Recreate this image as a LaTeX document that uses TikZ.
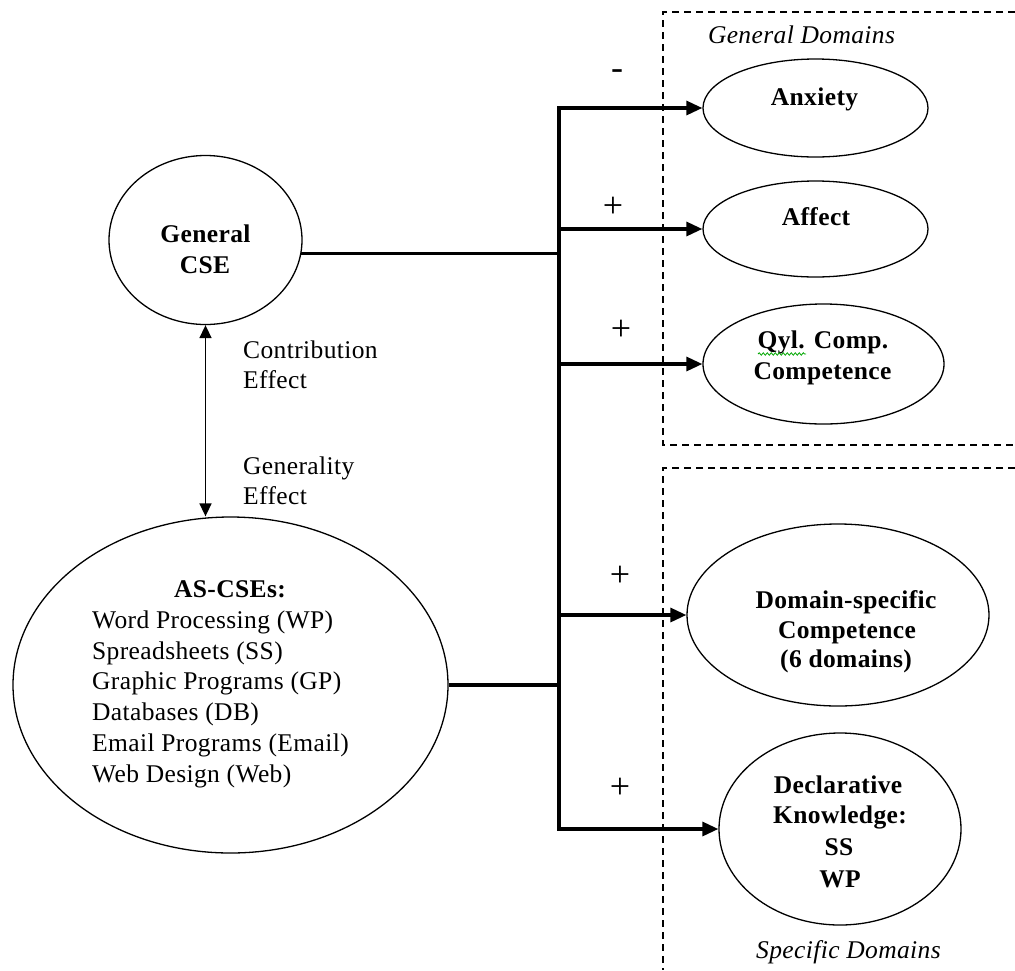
\documentclass[tikz,border=0pt]{standalone}
\usepackage{fontspec}
\setmainfont{Liberation Serif}[LetterSpace=1.5]
\usetikzlibrary{shapes.geometric,arrows.meta,decorations.pathmorphing}
\begin{document}
\begin{tikzpicture}[x=1pt,y=-1pt,
  oval/.style={draw, ellipse, line width=1.3pt, inner sep=0pt},
  txt/.style={font=\fontsize{25.5}{30}\selectfont, inner sep=0pt},
  btxt/.style={font=\fontsize{25.5}{30}\selectfont\bfseries, inner sep=0pt},
  itxt/.style={font=\fontsize{25.5}{30}\selectfont\itshape, inner sep=0pt},
  sign/.style={font=\fontsize{36}{36}\selectfont, inner sep=0pt},
  conn/.style={line width=3.2pt},
  bigtip/.style={-{Triangle[length=16pt,width=14pt]}},
  dbl/.style={line width=1.6pt, {Triangle[length=13pt,width=12pt]}-{Triangle[length=13pt,width=12pt]}},
  domainbox/.style={line width=1.3pt, dash pattern=on 7pt off 5pt}
]
\useasboundingbox (0,0) rectangle (1015,970);

% dashed domain boxes
\draw[domainbox] (1015,12) -- (663,12) -- (663,445) -- (1015,445);
\draw[domainbox] (1015,468) -- (663,468) -- (663,970);

% ellipses
\node[oval, minimum width=193pt, minimum height=169pt] (gcse) at (205.5,240) {};
\node[oval, minimum width=435pt, minimum height=336pt] (ascse) at (230.5,685) {};
\node[oval, minimum width=225pt, minimum height=98pt] (anx) at (815.5,108) {};
\node[oval, minimum width=225pt, minimum height=96pt] (aff) at (815.5,229) {};
\node[oval, minimum width=241pt, minimum height=120pt] (qyl) at (823.5,364) {};
\node[oval, minimum width=302pt, minimum height=182pt] (dom) at (838,615) {};
\node[oval, minimum width=242pt, minimum height=192pt] (decl) at (840,829) {};

% texts
\node[btxt, anchor=base] (gcseA) at (205.5,242) {General};
\node[btxt, anchor=base] (gcseB) at (205,273) {CSE};
\node[txt, anchor=base west] (contribA) at (243,358) {Contribution};
\node[txt, anchor=base west] (contribB) at (243,388) {Effect};
\node[txt, anchor=base west] (genA) at (243,474) {Generality};
\node[txt, anchor=base west] (genB) at (243,504) {Effect};

\node[btxt, anchor=base] (asA) at (230,597) {AS-CSEs:};
\node[txt, anchor=base west] (asB) at (92,628) {Word Processing (WP)};
\node[txt, anchor=base west] (asC) at (92,659) {Spreadsheets (SS)};
\node[txt, anchor=base west] (asD) at (92,689) {Graphic Programs (GP)};
\node[txt, anchor=base west] (asE) at (92,720) {Databases (DB)};
\node[txt, anchor=base west] (asF) at (92,751) {Email Programs (Email)};
\node[txt, anchor=base west] (asG) at (92,782) {Web Design (Web)};

\node[btxt, anchor=base] (anxT) at (814.5,105) {Anxiety};
\node[btxt, anchor=base] (affT) at (816,225) {Affect};
\node[btxt, anchor=base] (qylA) at (823,348) {Qyl. Comp.};
\node[btxt, anchor=base] (qylB) at (822.5,379) {Competence};
\node[btxt, anchor=base] (domA) at (846,608) {Domain-specific};
\node[btxt, anchor=base] (domB) at (847,638) {Competence};
\node[btxt, anchor=base] (domC) at (846,667) {(6 domains)};
\node[btxt, anchor=base] (declA) at (838,793) {Declarative};
\node[btxt, anchor=base] (declB) at (840,823) {Knowledge:};
\node[btxt, anchor=base] (declC) at (839,855) {SS};
\node[btxt, anchor=base] (declD) at (840,887) {WP};

\node[itxt, anchor=base] (gdom) at (801.5,43) {General Domains};
\node[itxt, anchor=base] (sdom) at (848.5,958) {Specific Domains};

% spell-check squiggle
\draw[green!65!black, line width=0.8pt, decorate, decoration={snake, amplitude=1.2pt, segment length=4pt}] (758,354) -- (806,354);

% signs
\node[sign] (s1) at (617,75) {-};
\node[sign] (s2) at (613,207) {+};
\node[sign] (s3) at (621,330) {+};
\node[sign] (s4) at (620,576) {+};
\node[sign] (s5) at (620,788) {+};

% connectors
\coordinate (trunk) at (559,0);
\draw[conn, {Triangle[length=16pt,width=14pt]}-{Triangle[length=16pt,width=14pt]}]
  (anx.west) -- (trunk |- anx.west) -- (trunk |- decl.west) -- (decl.west);
\draw[conn, bigtip] (trunk |- aff.west) -- (aff.west);
\draw[conn, bigtip] (trunk |- qyl.west) -- (qyl.west);
\draw[conn, bigtip] (trunk |- dom.west) -- (dom.west);
\draw[conn] (gcse.-8) -- (gcse.-8 -| trunk);
\draw[conn] (ascse.east) -- (ascse.east -| trunk);
\draw[dbl] (gcse.south) -- (gcse.south |- ascse.north);
\end{tikzpicture}
\end{document}
